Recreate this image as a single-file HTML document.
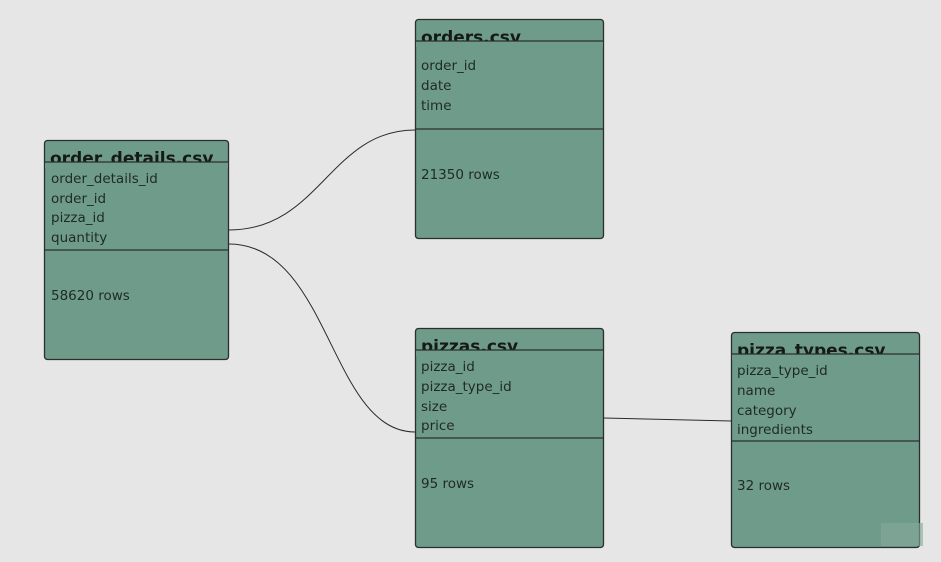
<!DOCTYPE html>
<html><head><meta charset="utf-8"><style>
html,body{margin:0;padding:0;background:#e6e6e6;}
svg{display:block;}
text{font-family:"DejaVu Sans","Liberation Sans",sans-serif;fill:#1f2a26;}
.t{font-weight:bold;font-size:17px;fill:#151a18;}
.f{font-size:13.5px;}
</style></head><body>
<svg width="941" height="562" viewBox="0 0 941 562">
<rect width="941" height="562" fill="#e6e6e6"/>
<g fill="none" stroke="#2b2b2b" stroke-width="1">
<path d="M229,230 C320,230 330,130 415,130"/>
<path d="M229,244 C330,244 330,432 415,432"/>
<path d="M604,418 L731,421"/>
</g>
<g stroke="#2a2f2d" stroke-width="1.3">
<rect x="44.5" y="140.5" width="184" height="219" rx="3" fill="#6f9b8a"/>
<rect x="415.5" y="19.5" width="188" height="219" rx="3" fill="#6f9b8a"/>
<rect x="415.5" y="328.5" width="188" height="219" rx="3" fill="#6f9b8a"/>
<rect x="731.5" y="332.5" width="188" height="215" rx="3" fill="#6f9b8a"/>
</g>
<text class="t" x="50" y="164">order_details.csv</text>
<text class="t" x="421" y="43">orders.csv</text>
<text class="t" x="421" y="352">pizzas.csv</text>
<text class="t" x="737" y="356">pizza_types.csv</text>
<g fill="#6f9b8a">
<rect x="45" y="162" width="183" height="6"/>
<rect x="416" y="41" width="187" height="6"/>
<rect x="416" y="350" width="187" height="6"/>
<rect x="732" y="354" width="187" height="6"/>
</g>
<g stroke="#2a2f2d" stroke-width="1.3">
<line x1="44" y1="162" x2="229" y2="162"/><line x1="44" y1="250" x2="229" y2="250"/>
<line x1="415" y1="41" x2="604" y2="41"/><line x1="415" y1="129" x2="604" y2="129"/>
<line x1="415" y1="350" x2="604" y2="350"/><line x1="415" y1="438" x2="604" y2="438"/>
<line x1="731" y1="354" x2="920" y2="354"/><line x1="731" y1="441" x2="920" y2="441"/>
</g>
<g>
<text class="f" x="51" y="183">order_details_id</text>
<text class="f" x="51" y="203">order_id</text>
<text class="f" x="51" y="222">pizza_id</text>
<text class="f" x="51" y="242">quantity</text>
<text class="f" x="51" y="300">58620 rows</text>
<text class="f" x="421" y="70">order_id</text>
<text class="f" x="421" y="90">date</text>
<text class="f" x="421" y="110">time</text>
<text class="f" x="421" y="179">21350 rows</text>
<text class="f" x="421" y="371">pizza_id</text>
<text class="f" x="421" y="391">pizza_type_id</text>
<text class="f" x="421" y="411">size</text>
<text class="f" x="421" y="430">price</text>
<text class="f" x="421" y="488">95 rows</text>
<text class="f" x="737" y="375">pizza_type_id</text>
<text class="f" x="737" y="395">name</text>
<text class="f" x="737" y="415">category</text>
<text class="f" x="737" y="434">ingredients</text>
<text class="f" x="737" y="490">32 rows</text>
</g>
<rect x="881" y="523" width="42" height="23" fill="#86a99b" opacity="0.6"/>
</svg>
</body></html>
